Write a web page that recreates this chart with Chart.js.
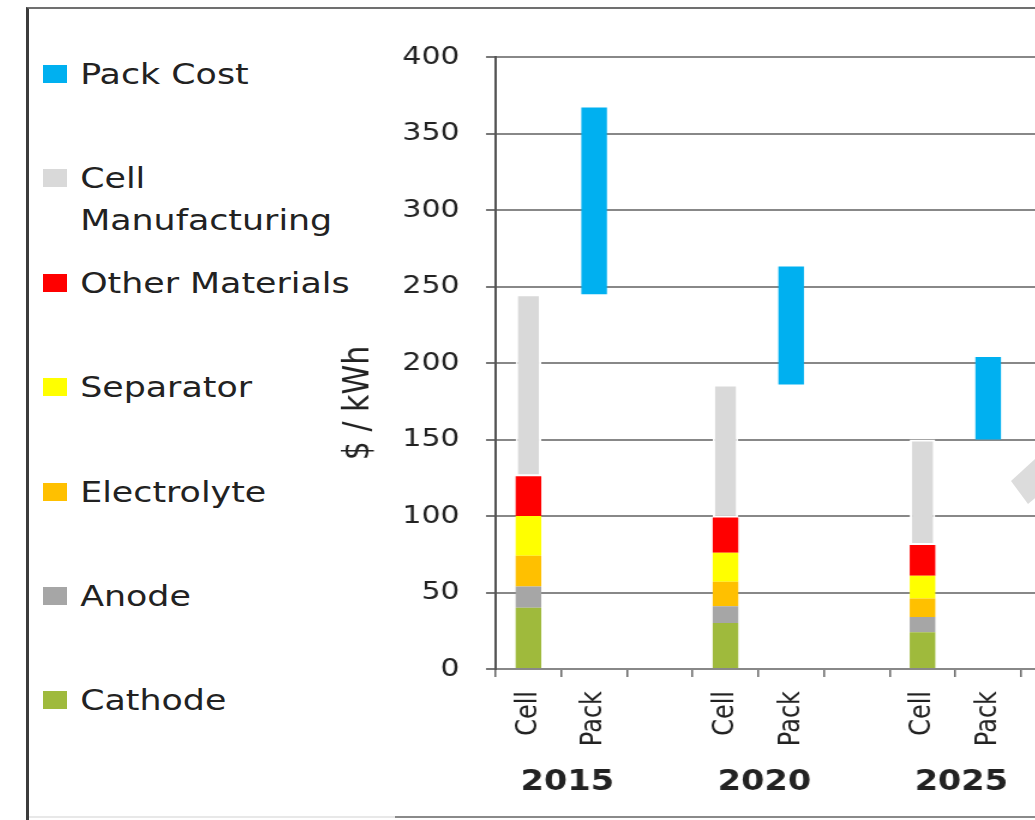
<!DOCTYPE html>
<html>
<head>
<meta charset="utf-8">
<title>Battery cost breakdown</title>
<script src="https://cdn.jsdelivr.net/npm/chart.js@4.4.1/dist/chart.umd.min.js"></script>
<style>
  html, body { margin: 0; padding: 0; background: #fff; width: 1035px; height: 820px; overflow: hidden; }
  body { position: relative; font-family: 'DejaVu Sans', sans-serif; color: #222; }
  .frame { position: absolute; left: 26px; top: 7px; width: 1100px; height: 812px;
           border-left: 3px solid #3c3c3c; border-top: 2px solid #707070; }
  .rule { position: absolute; top: 816px; height: 2px; }
  #chartWrap { position: absolute; left: 300px; top: 0; transform: scaleX(1.2); transform-origin: 0 0; }
  #legend { position: absolute; left: 43px; top: 0; width: 300px; height: 820px; transform: scaleX(1.2); transform-origin: 0 0; }
  .item { position: absolute; left: 0; width: 300px; display: flex; align-items: flex-start; font-size: 29px; line-height: 42px; }
  .swatch { width: 20px; height: 18px; margin-top: 12px; flex: none; }
  .label { margin-left: 11px; max-width: 265px; }
  #arrow { position: absolute; left: 1000px; top: 450px; }
</style>
</head>
<body>
<div class="frame"></div>
<div class="rule" style="left:29px;width:366px;background:#e8e8e8"></div>
<div class="rule" style="left:395px;width:700px;background:#8a8a8a"></div>
<div id="legend"></div>
<div id="chartWrap"><canvas id="chart" width="671" height="820"></canvas></div>
<svg id="arrow" width="40" height="60"><polygon points="11,31 35,9 40,9 40,44 28,54" fill="#dcdcdc"/></svg>
<script>
// cost per kWh, one value per year
const years = ['2015', '2020', '2025'];
const slotLabels = ['Cell', 'Pack', '', 'Cell', 'Pack', '', 'Cell', 'Pack', ''];
const cathode = [40, 30, 24];
const anode = [14, 11, 10];
const electrolyte = [20, 16, 12];
const separator = [26, 19, 15];
const otherMaterials = [26, 23, 20];
const cellManufacturing = [119, 87, 69];
const packCost = [[245, 367], [186, 263], [150, 204]];
const yTitle = '$ / kWh';

const font = "'DejaVu Sans', sans-serif";
Chart.defaults.font.family = font;
Chart.defaults.color = '#222';

// spread the per-year values into the Cell / Pack slots
const cellSlots = (vals) => slotLabels.map((l, i) => (i % 3 === 0 ? vals[i / 3] : null));
const packSlots = (vals) => slotLabels.map((l, i) => (i % 3 === 1 ? vals[(i - 1) / 3] : null));

const datasets = [
  { label: 'Cathode', data: cellSlots(cathode), backgroundColor: '#9fba3c' },
  { label: 'Anode', data: cellSlots(anode), backgroundColor: '#a6a6a6' },
  { label: 'Electrolyte', data: cellSlots(electrolyte), backgroundColor: '#ffc000' },
  { label: 'Separator', data: cellSlots(separator), backgroundColor: '#ffff00' },
  { label: 'Other Materials', data: cellSlots(otherMaterials), backgroundColor: '#ff0000' },
  { label: 'Cell Manufacturing', data: cellSlots(cellManufacturing), backgroundColor: '#d9d9d9',
    borderColor: '#ffffff', borderWidth: 2, borderSkipped: false },
  { label: 'Pack Cost', data: packSlots(packCost), backgroundColor: '#00b0f0' },
];

/* year captions under each pair + rotated axis title */
const extraLabels = {
  id: 'extraLabels',
  afterDraw(chart) {
    const { ctx, chartArea, scales: { x } } = chart;
    ctx.save();
    ctx.fillStyle = '#222';
    ctx.textAlign = 'center';
    ctx.textBaseline = 'middle';
    ctx.font = `bold 28px ${font}`;
    years.forEach((yr, i) => {
      const cx = (x.getPixelForValue(i * 3) + x.getPixelForValue(i * 3 + 1)) / 2;
      ctx.fillText(yr, cx + 5, chartArea.bottom + 114);
    });
    ctx.translate(49, (chartArea.top + chartArea.bottom) / 2 + 40);
    ctx.rotate(-Math.PI / 2);
    ctx.font = `30px ${font}`;
    ctx.fillText(yTitle, 0, 0);
    ctx.restore();
  },
};

const chart = new Chart(document.getElementById('chart'), {
  type: 'bar',
  data: { labels: slotLabels, datasets },
  plugins: [extraLabels],
  options: {
    responsive: false,
    animation: false,
    categoryPercentage: 1,
    barPercentage: 0.39,
    layout: { padding: { top: 57, left: 0, right: 0, bottom: 0 } },
    plugins: { legend: { display: false }, tooltip: { enabled: false } },
    scales: {
      x: {
        stacked: true,
        grid: { drawOnChartArea: false, drawTicks: true, tickLength: 8, tickColor: '#666', lineWidth: 1.5 },
        border: { color: '#888', width: 2 },
        ticks: { autoSkip: false, minRotation: 90, maxRotation: 90, padding: 14, font: { size: 24 }, color: '#222' },
        afterFit: (s) => { s.height = 151; },
      },
      y: {
        stacked: true,
        min: 0,
        max: 400,
        ticks: { stepSize: 50, padding: 22, font: { size: 25 }, color: '#222' },
        grid: { color: '#888', lineWidth: 2, tickLength: 8, tickColor: '#777' },
        border: { color: '#555', width: 2 },
        afterFit: (s) => { s.width = 163; },
      },
    },
  },
});

/* legend, top entry = last dataset */
const legend = document.getElementById('legend');
chart.data.datasets.slice().reverse().forEach((ds, i) => {
  const item = document.createElement('div');
  item.className = 'item';
  item.style.top = `${74 + i * 104.4 - 21}px`;
  const sw = document.createElement('span');
  sw.className = 'swatch';
  sw.style.background = ds.backgroundColor;
  const txt = document.createElement('span');
  txt.className = 'label';
  txt.innerText = ds.label;
  item.append(sw, txt);
  legend.append(item);
});
</script>
</body>
</html>
